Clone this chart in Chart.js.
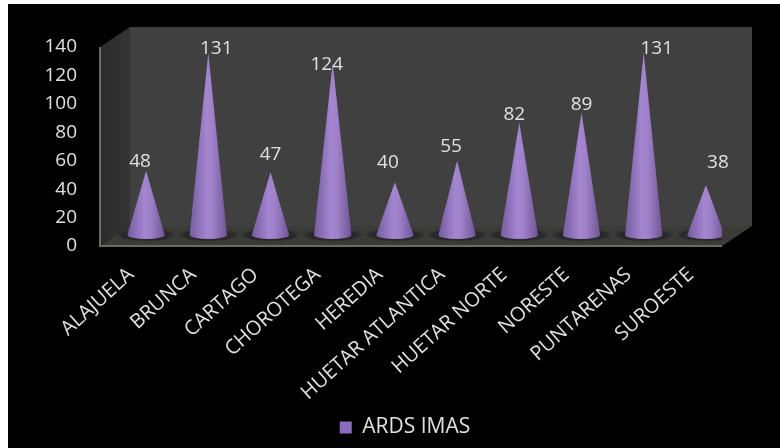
<!DOCTYPE html>
<html>
<head>
<meta charset="utf-8">
<script src="https://cdn.jsdelivr.net/npm/chart.js@4/dist/chart.umd.js"></script>
<style>
  html, body { margin: 0; padding: 0; background: #000; }
  #wrap { width: 780px; height: 448px; overflow: hidden; }
  canvas { filter: blur(0.5px); }
</style>
</head>
<body>
<div id="wrap"><canvas id="chart" width="780" height="448"></canvas></div>
<script>
const categories = ['ALAJUELA', 'BRUNCA', 'CARTAGO', 'CHOROTEGA', 'HEREDIA', 'HUETAR ATLANTICA', 'HUETAR NORTE', 'NORESTE', 'PUNTARENAS', 'SUROESTE'];
const ardsImas = [48, 131, 47, 124, 40, 55, 82, 89, 131, 38];
const yTicks = [0, 20, 40, 60, 80, 100, 120, 140];

// nudges for the value labels, they sit by hand in the original
const labelDx = [-6, 8, 0, -6, -7, -6, -5, 0, 13, 12];
const labelDy = [-8, -3, -17, 3, -19, -13, -7, -7, -3, -21];

const FONT = '"Open Sans", sans-serif';
const TEXT = '#e0e0e0';
// depth of the fake 3d box
const DEPTH_X = 30;
const DEPTH_Y = 20;

function poly(ctx, pts, fill) {
  ctx.beginPath();
  pts.forEach((p, i) => (i ? ctx.lineTo(p[0], p[1]) : ctx.moveTo(p[0], p[1])));
  ctx.closePath();
  ctx.fillStyle = fill;
  ctx.fill();
}

// bars drawn as cones standing in the middle of the floor
Chart.BarElement.prototype.draw = function (ctx) {
  const { x, y, base, width } = this.getProps(['x', 'y', 'base', 'width']);
  const cx = x + DEPTH_X / 2;
  const tip = y - 7;
  const floor = base - 11;
  const r = width / 2;
  const ry = 4;

  ctx.save();
  const shadow = ctx.createRadialGradient(cx, floor, 4, cx, floor, r + 12);
  shadow.addColorStop(0, 'rgba(28,26,32,0.8)');
  shadow.addColorStop(0.75, 'rgba(28,26,32,0.55)');
  shadow.addColorStop(1, 'rgba(28,26,32,0)');
  ctx.save();
  ctx.translate(0, floor);
  ctx.scale(1, 0.22);
  ctx.translate(0, -floor);
  ctx.fillStyle = shadow;
  ctx.beginPath();
  ctx.arc(cx, floor, r + 12, 0, Math.PI * 2);
  ctx.fill();
  ctx.restore();

  const g = ctx.createLinearGradient(cx - r, 0, cx + r, 0);
  g.addColorStop(0, '#765ca0');
  g.addColorStop(0.45, '#a385d0');
  g.addColorStop(0.6, '#a082ca');
  g.addColorStop(1, '#6f5596');
  ctx.fillStyle = g;
  ctx.beginPath();
  ctx.moveTo(cx, tip);
  ctx.lineTo(cx + r, floor);
  ctx.ellipse(cx, floor, r, ry, 0, 0, Math.PI);
  ctx.closePath();
  ctx.fill();
  ctx.restore();
};

const boxPlugin = {
  id: 'box',
  afterLayout(chart) {
    // legend sits under the middle of the box, not the middle of the page
    chart.legend.left += 44;
    chart.legend.right += 44;
  },
  beforeDraw(chart) {
    const { ctx, chartArea: a } = chart;
    ctx.save();
    ctx.fillStyle = '#fff';
    ctx.fillRect(0, 0, 780, 448);
    ctx.fillStyle = '#000';
    ctx.fillRect(8, 4, 772, 444);
    // left wall
    const lw = ctx.createLinearGradient(a.left, 0, a.left + DEPTH_X, 0);
    lw.addColorStop(0, '#2b2b2b');
    lw.addColorStop(1, '#353535');
    poly(ctx, [[a.left, a.top], [a.left + DEPTH_X, a.top - DEPTH_Y], [a.left + DEPTH_X, a.bottom - DEPTH_Y], [a.left, a.bottom]], lw);
    // back wall
    poly(ctx, [[a.left + DEPTH_X, a.top - DEPTH_Y], [a.right + DEPTH_X, a.top - DEPTH_Y], [a.right + DEPTH_X, a.bottom - DEPTH_Y], [a.left + DEPTH_X, a.bottom - DEPTH_Y]], '#404040');
    // floor
    poly(ctx, [[a.left, a.bottom], [a.left + DEPTH_X, a.bottom - DEPTH_Y], [a.right + DEPTH_X, a.bottom - DEPTH_Y], [a.right, a.bottom]], '#3b3b38');
    ctx.strokeStyle = '#6b6b66';
    ctx.lineWidth = 2;
    ctx.beginPath();
    ctx.moveTo(a.left, a.top);
    ctx.lineTo(a.left, a.bottom);
    ctx.lineTo(a.right, a.bottom);
    ctx.stroke();
    ctx.restore();
  },
  afterDatasetsDraw(chart) {
    const { ctx } = chart;
    const bars = chart.getDatasetMeta(0).data;
    ctx.save();
    ctx.font = '19px ' + FONT;
    ctx.fillStyle = TEXT;
    ctx.textAlign = 'center';
    ctx.textBaseline = 'middle';
    bars.forEach((bar, i) => {
      ctx.fillText(ardsImas[i], bar.x + DEPTH_X / 2 + labelDx[i], bar.y - 8 + labelDy[i]);
    });
    ctx.restore();
  }
};

new Chart(document.getElementById('chart'), {
  type: 'bar',
  data: {
    labels: categories,
    datasets: [{
      label: 'ARDS IMAS',
      data: ardsImas,
      backgroundColor: '#8b6bbd',
      barPercentage: 0.6,
      categoryPercentage: 1
    }]
  },
  options: {
    responsive: false,
    animation: false,
    layout: { padding: { left: 0, right: 58, top: 47, bottom: 0 } },
    scales: {
      x: {
        grid: { display: false, drawTicks: false },
        border: { display: false },
        ticks: {
          color: TEXT,
          font: { family: FONT, size: 20 },
          minRotation: 42,
          maxRotation: 42,
          autoSkip: false,
          padding: 17
        },
        afterFit(scale) { scale.height = 165; }
      },
      y: {
        min: 0,
        max: 140,
        grid: { display: false, drawTicks: false },
        border: { display: false },
        afterBuildTicks(scale) { scale.ticks = yTicks.map((v) => ({ value: v })); },
        ticks: {
          color: TEXT,
          font: { family: FONT, size: 19 },
          padding: 23
        },
        afterFit(scale) { scale.width = 100; }
      }
    },
    plugins: {
      tooltip: { enabled: false },
      legend: {
        position: 'bottom',
        labels: {
          color: TEXT,
          font: { family: FONT, size: 21 },
          boxWidth: 12,
          boxHeight: 12,
          padding: 6
        }
      }
    }
  },
  plugins: [boxPlugin]
});
</script>
</body>
</html>
